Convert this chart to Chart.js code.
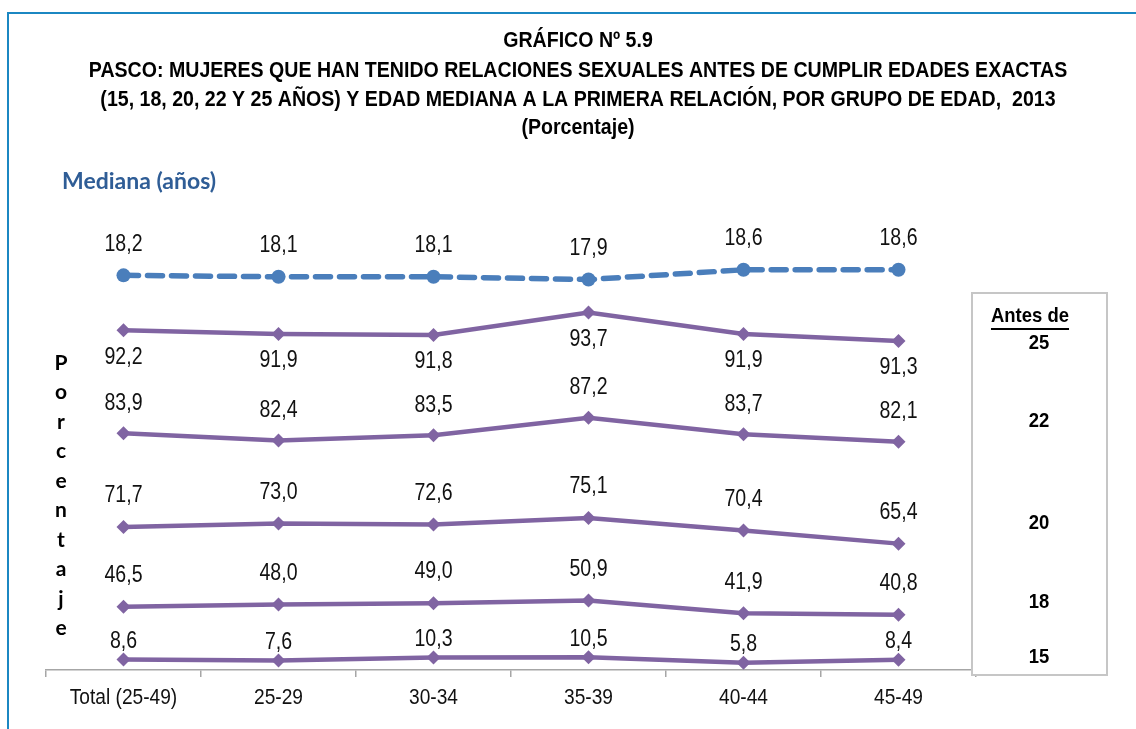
<!DOCTYPE html>
<html><head><meta charset="utf-8">
<script src="https://cdn.jsdelivr.net/npm/chart.js@4/dist/chart.umd.min.js"></script>
<style>html,body{margin:0;padding:0;background:#fff;}canvas{display:block}</style>
</head><body>
<canvas id="c" width="1136" height="729"></canvas>
<script>
// ---------- data ----------
const categories = ['Total (25-49)', '25-29', '30-34', '35-39', '40-44', '45-49'];
const mediana = [18.2, 18.1, 18.1, 17.9, 18.6, 18.6];
const antes25 = [92.2, 91.9, 91.8, 93.7, 91.9, 91.3];
const antes22 = [83.9, 82.4, 83.5, 87.2, 83.7, 82.1];
const antes20 = [71.7, 73.0, 72.6, 75.1, 70.4, 65.4];
const antes18 = [46.5, 48.0, 49.0, 50.9, 41.9, 40.8];
const antes15 = [8.6, 7.6, 10.3, 10.5, 5.8, 8.4];
const edades = ['25', '22', '20', '18', '15'];
const titleLines = [
  'GRÁFICO Nº 5.9',
  'PASCO: MUJERES QUE HAN TENIDO RELACIONES SEXUALES ANTES DE CUMPLIR EDADES EXACTAS',
  '(15, 18, 20, 22 Y 25 AÑOS) Y EDAD MEDIANA A LA PRIMERA RELACIÓN, POR GRUPO DE EDAD,  2013',
  '(Porcentaje)'
];
const medianaLabel = 'Mediana (años)';
const legendTitle = 'Antes de';
const yAxisWord = 'Porcentaje';

// ---------- styles ----------
const PURPLE = '#8064a2';
const BLUE = '#4a7ebb';
const SANS = '"Liberation Sans", Arial, sans-serif';
const fmt = v => v.toFixed(1).replace('.', ',');

// draws horizontally condensed text (emulates Arial Narrow)
function narrowText(ctx, text, x, y, font, sx, align) {
  ctx.save();
  ctx.font = font;
  ctx.textAlign = align || 'center';
  ctx.textBaseline = 'middle';
  ctx.translate(x, y);
  ctx.scale(sx, 1);
  ctx.fillText(text, 0, 0);
  const w = ctx.measureText(text).width * sx;
  ctx.restore();
  return w;
}

function purpleSet(label, data, axis, labelOffset) {
  return {
    label, data, yAxisID: axis,
    borderColor: PURPLE, backgroundColor: PURPLE,
    borderWidth: 4.5, pointStyle: 'rectRot', pointRadius: 7, pointHoverRadius: 7,
    pointBorderWidth: 0, tension: 0, labelOffset
  };
}

const datasets = [
  {
    label: medianaLabel, data: mediana, yAxisID: 'yMed',
    borderColor: BLUE, backgroundColor: BLUE, borderWidth: 5.5,
    borderDash: [15, 9], borderCapStyle: 'round',
    pointStyle: 'circle', pointRadius: 7, pointHoverRadius: 7, pointBorderWidth: 0,
    tension: 0, labelOffset: -31
  },
  purpleSet('Antes de 25', antes25, 'y25', 27),
  purpleSet('Antes de 22', antes22, 'y22', -30),
  purpleSet('Antes de 20', antes20, 'y20', -31),
  purpleSet('Antes de 18', antes18, 'y18', -31),
  purpleSet('Antes de 15', antes15, 'y15', -18)
];

const decorPlugin = {
  id: 'decor',
  beforeDraw(chart) {
    const ctx = chart.ctx;
    ctx.save();
    // frame
    ctx.strokeStyle = '#1b87c2';
    ctx.lineWidth = 2;
    ctx.beginPath();
    ctx.moveTo(8, 740); ctx.lineTo(8, 13); ctx.lineTo(1150, 13);
    ctx.stroke();
    // titles
    ctx.fillStyle = '#000';
    const ys = [41, 71, 100, 128];
    titleLines.forEach((t, i) => narrowText(ctx, t, 578, ys[i], 'bold 22px ' + SANS, 0.89));
    // mediana label
    ctx.fillStyle = '#2f5d96';
    ctx.font = 'bold 23px Lato, "Open Sans", sans-serif';
    ctx.textAlign = 'left';
    ctx.textBaseline = 'middle';
    ctx.fillText(medianaLabel, 62, 182);
    // vertical word
    ctx.fillStyle = '#000';
    ctx.textAlign = 'center';
    ctx.font = 'bold 21px Lato, "Open Sans", sans-serif';
    [...yAxisWord].forEach((ch, i) => ctx.fillText(ch, 61, 363 + i * 29.5));
    ctx.restore();
  },
  afterDraw(chart) {
    const ctx = chart.ctx;
    ctx.save();
    ctx.fillStyle = '#111';
    // x tick labels at the category scale positions
    const xs = chart.scales.x;
    categories.forEach((c, i) => narrowText(ctx, c, xs.getPixelForTick(i), 698, '22px ' + SANS, 0.87));
    // data labels
    chart.data.datasets.forEach((ds, di) => {
      const meta = chart.getDatasetMeta(di);
      meta.data.forEach((pt, i) => {
        narrowText(ctx, fmt(ds.data[i]), pt.x, pt.y + ds.labelOffset, '23px ' + SANS, 0.85);
      });
    });
    // legend box
    ctx.fillStyle = '#fff';
    ctx.strokeStyle = '#c6c6c6';
    ctx.lineWidth = 2;
    ctx.fillRect(972, 293, 135, 382);
    ctx.strokeRect(972, 293, 135, 382);
    ctx.fillStyle = '#000';
    const w = narrowText(ctx, legendTitle, 1030, 316, 'bold 21px ' + SANS, 0.88);
    ctx.fillRect(1030 - w / 2, 328, w, 2);
    const ly = [343, 421, 523, 602, 657];
    edades.forEach((e, i) => narrowText(ctx, e, 1039, ly[i], 'bold 21px ' + SANS, 0.88));
    ctx.restore();
  }
};

new Chart(document.getElementById('c'), {
  type: 'line',
  data: { labels: categories, datasets },
  plugins: [decorPlugin],
  options: {
    responsive: false,
    devicePixelRatio: 1,
    animation: false,
    events: [],
    layout: { padding: { left: 46, right: 160, top: 240, bottom: 0 } },
    plugins: { legend: { display: false }, tooltip: { enabled: false } },
    scales: {
      x: {
        offset: true,
        afterFit: s => { s.height = 59; },
        grid: { display: true, drawOnChartArea: false, offset: true, tickLength: 7, color: '#a6a6a6', lineWidth: 1.5 },
        border: { display: true, color: '#a6a6a6', width: 1.5 },
        ticks: { display: false }
      },
      yMed: { display: false, min: -10.15, max: 20.74 },
      y25: { display: false, min: 63.66, max: 99.79 },
      y22: { display: false, min: 33.55, max: 125.04 },
      y20: { display: false, min: 17.64, max: 180.15 },
      y18: { display: false, min: 2.15, max: 303.5 },
      y15: { display: false, min: -0.62, max: 374.2 }
    }
  }
});
</script>
</body></html>
